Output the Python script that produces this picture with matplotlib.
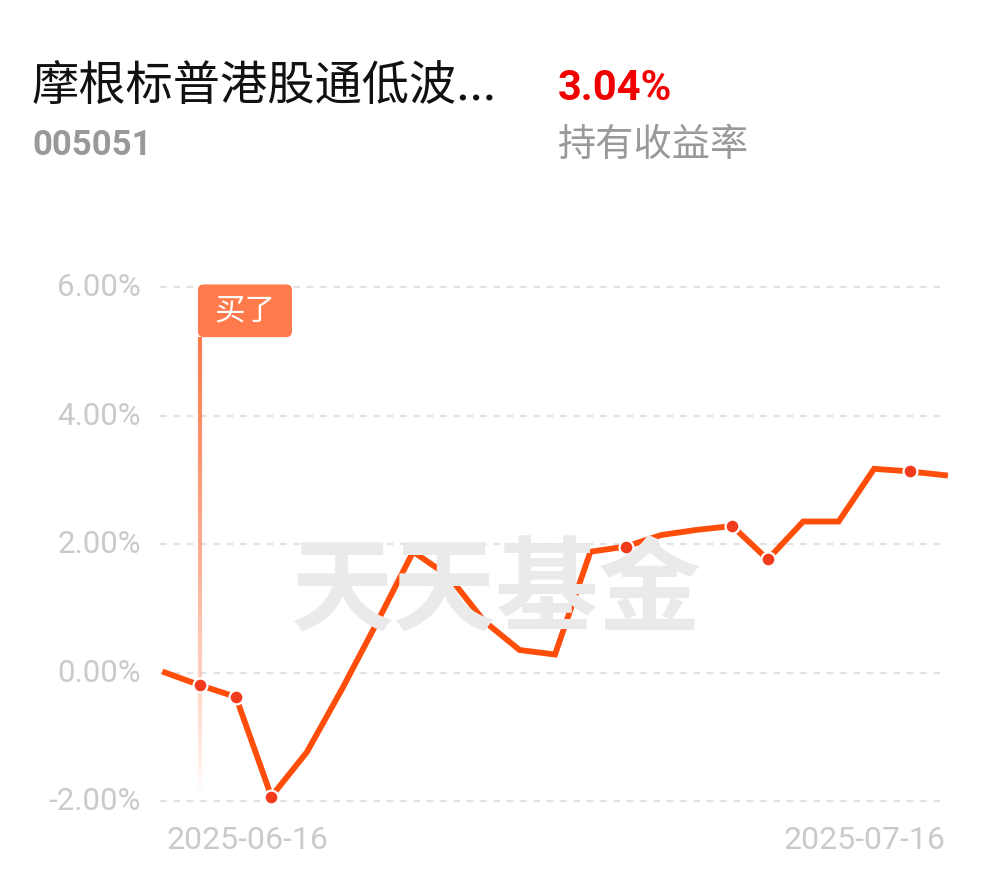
import numpy as np
import matplotlib
matplotlib.use('Agg')
import matplotlib.pyplot as plt
from matplotlib.collections import LineCollection
from matplotlib.patches import FancyBboxPatch

plt.rcParams['font.family'] = ['Roboto', 'Noto Sans CJK SC', 'DejaVu Sans']

# ---- data ----
fund_name = '摩根标普港股通低波...'
fund_code = '005051'
hold_return = '3.04%'
hold_label = '持有收益率'
start_date = '2025-06-16'
end_date = '2025-07-16'
returns = [0.00, -0.20, -0.38, -1.93, -1.24, -0.25, 0.80, 1.88, 1.50, 0.80,
           0.35, 0.28, 1.88, 1.96, 2.14, 2.22, 2.28, 1.76, 2.35, 2.35,
           3.17, 3.13, 3.07]
marker_idx = [1, 2, 3, 13, 16, 17, 21]
buy_idx = 1
yticks = [-2, 0, 2, 4, 6]
ytick_labels = ['-2.00%', '0.00%', '2.00%', '4.00%', '6.00%']

line_color = '#FF4D0A'
dot_color = '#F23A1C'
buy_color = '#FF7B4C'
tick_color = '#CACACA'

W, H = 990, 878
fig = plt.figure(figsize=(W / 100, H / 100), dpi=100)
fig.patch.set_facecolor('white')

# axes placed in pixel terms
x0, x1, y_top, y_bot = 165, 945, 288, 802
ax = fig.add_axes([x0 / W, 1 - y_bot / H, (x1 - x0) / W, (y_bot - y_top) / H])
n = len(returns)
x = np.arange(n)
ax.set_xlim(0, n - 1)
ax.set_ylim(-2, 6)
ax.axis('off')

# dashed grid lines
for t, lab in zip(yticks, ytick_labels):
    ax.hlines(t, -0.15, n - 1, colors='#E3E3E3', linestyles=(0, (3, 3)),
              linewidth=1.6, clip_on=False, zorder=1)
    ax.text(-0.68, t, lab, ha='right', va='center', fontsize=22.5,
            color=tick_color, clip_on=False)

# watermark
fig.text(496 / W, 1 - 592 / H, '天天基金', ha='center', va='center',
         fontsize=74, fontweight='heavy', color='#EAEAEA',
         family=['Noto Sans CJK SC'], zorder=0)

# buy marker: fading vertical line
y_line_top, y_line_bot = 5.22, -1.9
ys = np.linspace(y_line_top, y_line_bot, 120)
segs = [[(buy_idx, ys[i]), (buy_idx, ys[i + 1])] for i in range(len(ys) - 1)]
alphas = np.linspace(1.0, 0.0, len(segs)) ** 0.8
rgb = matplotlib.colors.to_rgb(buy_color)
cols = [(rgb[0], rgb[1], rgb[2], a) for a in alphas]
lc = LineCollection(segs, colors=cols, linewidths=3.0, zorder=2, clip_on=False)
ax.add_collection(lc)

px_x = 1 / 35.45
px_y = 8 / (y_bot - y_top)
box_top = 6.04
box = FancyBboxPatch((buy_idx - 2.5 * px_x, y_line_top), 94 * px_x, box_top - y_line_top,
                     boxstyle='round,pad=0,rounding_size=0.16',
                     mutation_aspect=px_y / px_x,
                     fc=buy_color, ec='none', zorder=3, clip_on=False)
ax.add_patch(box)
ax.text(buy_idx - 2.5 * px_x + 47 * px_x, (y_line_top + box_top) / 2 + 0.02, '买了',
        ha='center', va='center', fontsize=22, color='white',
        family=['Noto Sans CJK SC'], zorder=4)

# main line
ax.plot(x, returns, color=line_color, linewidth=4.2, solid_joinstyle='miter',
        zorder=5, clip_on=False)
ax.plot(x[marker_idx], np.array(returns)[marker_idx], 'o', ms=10,
        mfc=dot_color, mec='white', mew=1.6, zorder=6, clip_on=False)

# date labels
fig.text(166 / W, 1 - 841 / H, start_date, ha='left', va='center',
         fontsize=23, color=tick_color)
fig.text(945 / W, 1 - 841 / H, end_date, ha='right', va='center',
         fontsize=23, color=tick_color)

# header
fig.text(32 / W, 1 - 87 / H, fund_name, ha='left', va='center', fontsize=34,
         color='#111111', family=['Noto Sans CJK SC', 'DejaVu Sans'])
fig.text(32 / W, 1 - 146 / H, fund_code, ha='left', va='center', fontsize=25,
         fontweight='bold', color='#999999')
fig.text(558 / W, 1 - 88 / H, hold_return, ha='left', va='center', fontsize=30,
         fontweight='bold', color='#F20000')
fig.text(558 / W, 1 - 146 / H, hold_label, ha='left', va='center', fontsize=27.5,
         color='#999999', family=['Noto Sans CJK SC'])

fig.savefig('out.png', dpi=100)
